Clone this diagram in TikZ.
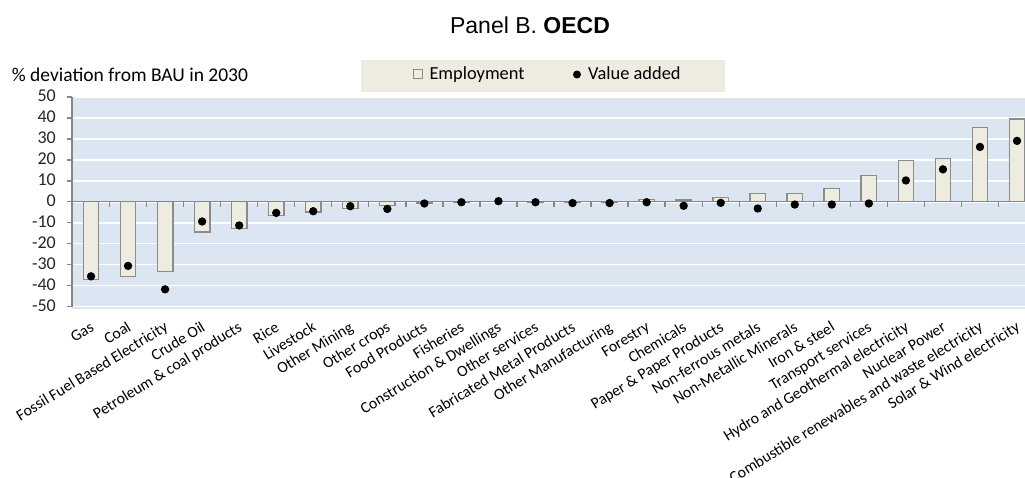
\documentclass[tikz,border=0pt]{standalone}
\usepackage{fontspec}
\setmainfont{Carlito}
\newfontfamily\titlefont{Liberation Sans}
\definecolor{plotbg}{HTML}{DCE6F2}
\definecolor{barfill}{HTML}{EEECE1}
\definecolor{bardraw}{HTML}{8C8C8C}
\definecolor{axisgray}{HTML}{868686}
\tikzset{
  barbox/.style={draw=bardraw, fill=barfill, line width=1.3pt},
  vadot/.style={circle, fill=black, inner sep=0, minimum size=8.4pt},
  gridline/.style={white, line width=1.6pt},
  axisline/.style={axisgray, line width=1.3pt},
  ticklab/.style={anchor=base east, inner sep=0, font=\fontsize{18}{18}\selectfont, text=black!85},
  catlab/.style={anchor=base east, rotate=31.5, inner sep=0, font=\fontsize{15.8}{16}\selectfont},
  legtext/.style={anchor=base west, inner sep=0, font=\fontsize{18.4}{19}\selectfont},
}
\begin{document}
\begin{tikzpicture}[x=1pt,y=-1pt]
\useasboundingbox (0,0) rectangle (1025,477);
\fill[white] (0,0) rectangle (1025,477);
% title
\node[anchor=base, inner sep=0, font=\titlefont\fontsize{23}{25}\selectfont] (title) at (530,33.5) {Panel B. \textbf{OECD}};
% y label
\node[anchor=base west, inner sep=0, font=\fontsize{19.5}{20}\selectfont] (ylab) at (11.7,81) {\% deviation from BAU in 2030};
% legend
\node[fill=barfill, minimum width=364pt, minimum height=32pt, inner sep=0] (legend) at (543,76) {};
\node[draw=bardraw, fill=barfill, line width=1pt, minimum size=9pt, inner sep=0] (legsq) at (418,74) {};
\node[legtext] (legemp) at (429.3,79.5) {Employment};
\node[circle, fill=black, inner sep=0, minimum size=8pt] (legdot) at (577,74.5) {};
\node[legtext] (legva) at (588,79.5) {Value added};
% plot area
\fill[plotbg] (72,97) rectangle (1025,309);
\foreach \v in {-50,-40,...,50}{
  \pgfmathsetmacro{\yy}{201.8-2.094*\v}
  \draw[gridline] (72.5,\yy) -- (1025,\yy);
  \draw[axisline] (66.5,\yy) -- (72,\yy);
  \node[ticklab] (tick\v) at (56,\yy+4.8) {\v};
}
\draw[axisline] (72,97.3) -- (72,306.7);
% bars
\foreach \e/\va/\lab [count=\i] in {
  -37.2/-35.6/Gas,
  -35.6/-30.6/Coal,
  -33.2/-41.8/Fossil Fuel Based Electricity,
  -14.4/-9.4/Crude Oil,
  -12.6/-11.3/Petroleum \& coal products,
  -6.4/-5.3/Rice,
  -4.8/-4.5/Livestock,
  -3.1/-2.1/Other Mining,
  -1.6/-3.4/Other crops,
  -0.6/-0.8/Food Products,
  -0.3/-0.2/Fisheries,
  0.3/0.3/Construction \& Dwellings,
  -0.3/-0.2/Other services,
  -0.4/-0.6/Fabricated Metal Products,
  -0.3/-0.6/Other Manufacturing,
  1.0/-0.2/Forestry,
  0.8/-1.9/Chemicals,
  2.1/-0.5/Paper \& Paper Products,
  4.0/-3.2/Non-ferrous metals,
  4.0/-1.3/Non-Metallic Minerals,
  6.4/-1.3/Iron \& steel,
  12.6/-0.8/Transport services,
  19.8/10.2/Hydro and Geothermal electricity,
  20.6/15.5/Nuclear Power,
  35.6/26.2/Combustible renewables and waste electricity,
  39.6/29.1/Solar \& Wind electricity}{
  \pgfmathsetmacro{\xc}{72.5+37.04*(\i-0.5)}
  \pgfmathsetmacro{\ye}{201.8-2.094*\e}
  \draw[barbox] (\xc-7.75,201.8) rectangle (\xc+7.75,\ye);
  \node[catlab] (cat\i) at (\xc+4,330) {\lab};
}
% category axis
\draw[axisline] (72,201.8) -- (1025,201.8);
\foreach \k in {1,...,26}{
  \pgfmathsetmacro{\xt}{72.5+37.04*\k}
  \draw[axisline] (\xt,201.8) -- (\xt,207);
}
% value added dots
\foreach \va [count=\i] in {-35.6,-30.6,-41.8,-9.4,-11.3,-5.3,-4.5,-2.1,-3.4,-0.8,-0.2,0.3,-0.2,-0.6,-0.6,-0.2,-1.9,-0.5,-3.2,-1.3,-1.3,-0.8,10.2,15.5,26.2,29.1}{
  \pgfmathsetmacro{\xc}{72.5+37.04*(\i-0.5)}
  \pgfmathsetmacro{\yv}{201.8-2.094*\va}
  \node[vadot] (va\i) at (\xc,\yv) {};
}
\end{tikzpicture}
\end{document}
